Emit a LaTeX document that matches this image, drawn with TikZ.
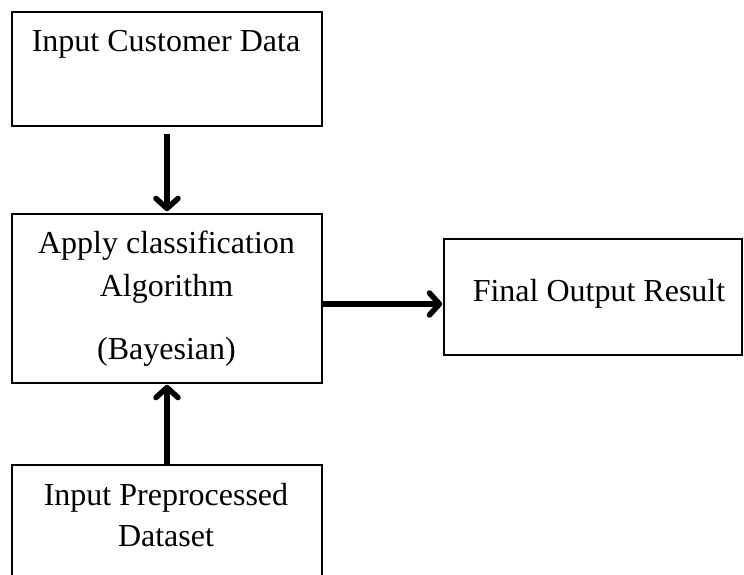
\documentclass[tikz,border=0pt]{standalone}
\usepackage{fontspec}
\setmainfont{Liberation Serif}
\usetikzlibrary{arrows.meta}
\begin{document}
\begin{tikzpicture}[x=1pt,y=-1pt,
  box/.style={draw=black,line width=1.6pt,minimum width=310pt,inner sep=0pt},
  txt/.style={anchor=base,inner sep=0pt,font=\fontsize{32}{38}\selectfont},
  flow/.style={line width=5.5pt,-{Straight Barb[length=10pt,width=22pt,line cap=round,line join=round]}}]
\useasboundingbox (0,0) rectangle (744,575);
% boxes
\node[box,minimum height=114pt] (input) at (167,69) {};
\node[box,minimum height=169pt] (algo) at (167,298.5) {};
\node[box,minimum width=298pt,minimum height=116pt] (result) at (593,297) {};
\node[box,minimum height=125pt] (data) at (167,527.5) {};
% labels
\node[txt] (t1) at (166,52) {Input Customer Data};
\node[txt] (t2) at (166.5,253) {Apply classification};
\node[txt] (t3) at (166.5,296) {Algorithm};
\node[txt] (t4) at (166.5,359) {(Bayesian)};
\node[txt] (t5) at (599,301) {Final Output Result};
\node[txt] (t6) at (166,505) {Input Preprocessed};
\node[txt] (t7) at (166,546) {Dataset};
% connectors
\draw[flow,shorten <=7pt,shorten >=2pt] (input.south) -- (algo.north);
\draw[flow,shorten >=1pt] (data.north) -- (algo.south);
\draw[flow,shorten >=1pt] (algo.east |- result.center) ++(0,-7pt) coordinate (hs) -- (result.west |- hs);
\end{tikzpicture}
\end{document}
